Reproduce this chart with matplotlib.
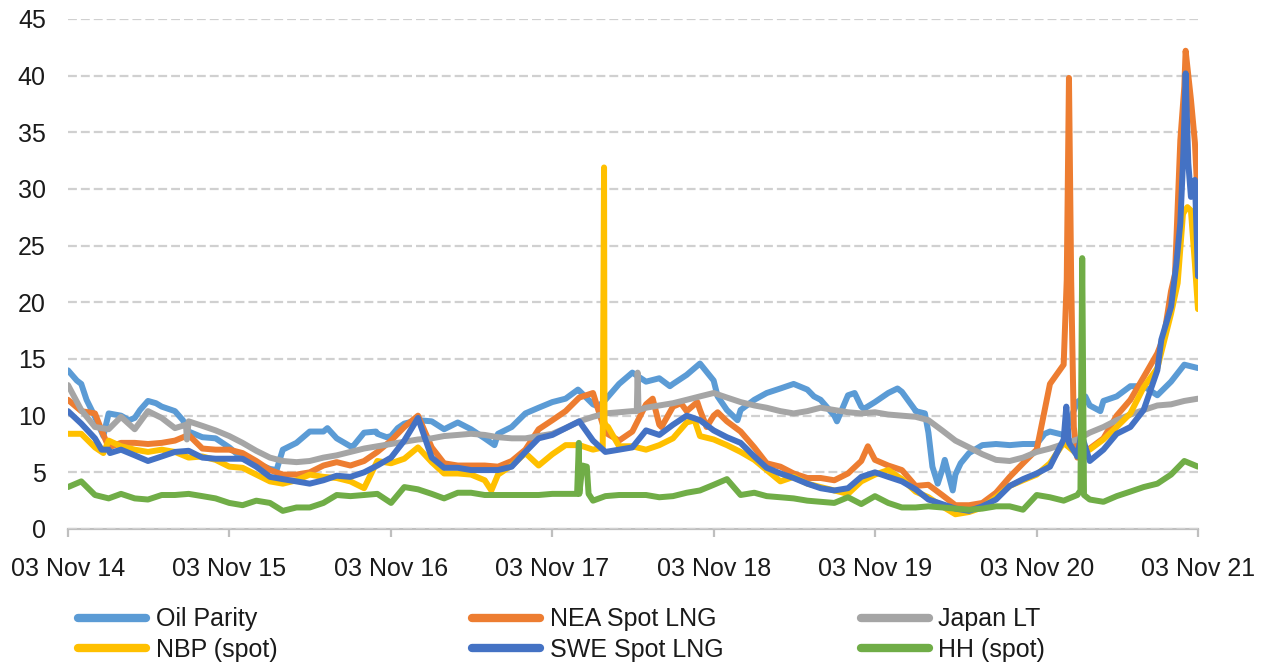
import matplotlib
matplotlib.use("Agg")
import matplotlib.pyplot as plt
import matplotlib.dates as mdates
from matplotlib.lines import Line2D
import pandas as pd
import numpy as np

plt.rcParams['font.family'] = ['Liberation Sans', 'DejaVu Sans']

# monthly observation dates (3rd of each month, Nov 2014 .. Nov 2021)
dates = pd.date_range('2014-11-01', periods=85, freq='MS') + pd.Timedelta(days=2)

oil_parity = [14.0, 12.8, 9.9, 10.2, 10.0, 9.8, 11.3, 10.8, 10.4, 8.6,
              8.1, 8.0, 7.2, 6.2, 5.8, 5.3, 7.0, 7.6, 8.6, 8.6,
              8.0, 7.3, 8.5, 8.4, 8.2, 9.3, 9.6, 9.5, 8.8, 9.4,
              8.8, 8.0, 8.4, 9.0, 10.2, 10.7, 11.2, 11.5, 12.2, 11.0,
              11.4, 12.8, 13.8, 13.0, 13.3, 12.8, 13.6, 14.6, 13.1, 10.5,
              10.5, 11.4, 12.0, 12.4, 12.8, 12.3, 11.4, 10.0, 11.8, 10.8,
              11.2, 12.0, 12.1, 10.4, 8.5, 5.2, 4.8, 6.7, 7.4, 7.5,
              7.4, 7.5, 7.5, 8.6, 8.3, 11.2, 10.9, 11.3, 11.7, 12.6,
              12.6, 11.8, 13.0, 14.5, 14.2]
oil_extra_dates = ['2014-11-23', '2014-12-15', '2015-01-22', '2015-03-21', '2015-04-15',
                   '2015-05-21', '2015-07-21', '2016-02-18', '2016-06-12', '2016-08-09',
                   '2016-09-30', '2016-10-24', '2016-11-18', '2017-06-25', '2017-12-31',
                   '2018-02-15', '2018-07-27', '2018-11-12', '2018-12-27', '2019-06-18',
                   '2019-08-09', '2019-09-18', '2019-10-09', '2019-12-24', '2020-01-31',
                   '2020-02-24', '2020-03-12', '2020-03-24', '2020-04-09', '2020-04-27',
                   '2020-05-15', '2020-11-21', '2021-02-21', '2021-03-27']
oil_extra_vals = [13.1, 11.4, 8.2, 9.6, 10.5,
                  11.1, 9.6, 5.2, 8.9, 7.3,
                  8.6, 8.1, 8.9, 7.4, 12.3,
                  10.8, 12.6, 11.7, 9.6, 11.7,
                  9.5, 12.0, 10.6, 12.4, 10.6,
                  10.2, 5.5, 4.0, 6.1, 3.4,
                  5.8, 8.4, 11.7, 10.4]

nea_spot = [11.4, 10.4, 10.2, 7.2, 7.6, 7.6, 7.5, 7.6, 7.8, 8.3,
            7.1, 7.0, 7.0, 6.7, 6.0, 5.2, 4.8, 4.8, 5.0, 5.6,
            5.9, 5.6, 6.0, 6.8, 7.8, 9.0, 10.0, 7.2, 5.8, 5.6,
            5.6, 5.6, 5.5, 6.0, 7.0, 8.8, 9.6, 10.4, 11.6, 12.0,
            8.5, 7.8, 8.6, 11.0, 9.2, 10.8, 10.4, 10.5, 10.0, 9.5,
            8.6, 7.2, 5.8, 5.5, 4.9, 4.5, 4.5, 4.3, 4.9, 6.0,
            6.1, 5.6, 5.2, 3.8, 3.9, 3.0, 2.1, 2.1, 2.3, 3.2,
            4.6, 5.8, 7.0, 12.8, 14.5, 6.3, 7.1, 8.0, 10.0, 11.4,
            13.4, 15.5, 21.0, 39.0, 28.5]
nea_extra_dates = ['2015-01-18', '2018-06-18', '2018-07-08', '2018-08-21', '2018-09-27',
                   '2018-10-18', '2018-11-12', '2019-10-18', '2021-01-10', '2021-01-15',
                   '2021-01-20', '2021-01-26', '2021-08-18', '2021-09-12', '2021-09-24',
                   '2021-10-06', '2021-10-18', '2021-10-27']
nea_extra_vals = [8.7, 11.5, 9.0, 11.1, 11.2,
                  9.0, 10.3, 7.3, 22.0, 39.8,
                  22.0, 9.0, 17.0, 22.5, 34.3,
                  42.2, 37.9, 34.1]

japan_lt = [12.7, 10.5, 9.0, 8.8, 9.9, 8.8, 10.4, 9.8, 8.9, 9.5,
            9.1, 8.7, 8.2, 7.6, 6.9, 6.3, 6.0, 5.9, 6.0, 6.3,
            6.5, 6.8, 7.1, 7.3, 7.5, 7.7, 7.9, 8.0, 8.2, 8.3,
            8.4, 8.3, 8.1, 8.0, 8.0, 8.2, 8.4, 8.9, 9.5, 9.9,
            10.2, 10.3, 10.4, 10.7, 10.9, 11.1, 11.4, 11.7, 12.0, 11.6,
            11.2, 10.9, 10.7, 10.4, 10.2, 10.4, 10.7, 10.5, 10.3, 10.2,
            10.3, 10.1, 10.0, 9.9, 9.6, 8.7, 7.8, 7.2, 6.6, 6.1,
            6.0, 6.3, 6.8, 7.1, 7.5, 7.9, 8.5, 9.0, 9.6, 10.1,
            10.5, 10.9, 11.0, 11.3, 11.5]
japan_extra_dates = ['2015-07-28', '2015-07-30', '2018-05-13', '2018-05-15', '2018-05-17']
japan_extra_vals = [9.2, 7.9, 10.4, 13.8, 10.5]

nbp_spot = [8.4, 8.4, 7.2, 7.8, 7.3, 7.0, 6.8, 7.0, 6.8, 6.3,
            6.4, 6.1, 5.5, 5.4, 4.8, 4.2, 4.0, 4.3, 4.8, 4.6,
            4.5, 4.2, 3.6, 6.0, 5.8, 6.2, 7.2, 5.9, 4.9, 4.9,
            4.8, 4.3, 4.8, 5.6, 6.7, 5.6, 6.6, 7.4, 7.4, 7.0,
            9.2, 7.3, 7.3, 7.0, 7.4, 8.0, 9.4, 8.2, 7.9, 7.4,
            6.8, 6.1, 5.2, 4.2, 4.6, 4.0, 3.7, 3.4, 3.1, 4.2,
            4.8, 5.2, 4.4, 3.3, 2.8, 2.0, 1.3, 1.5, 1.9, 2.8,
            3.8, 4.3, 4.8, 5.8, 7.6, 6.6, 7.0, 7.9, 9.0, 10.2,
            12.5, 14.2, 19.0, 28.0, 19.4]
nbp_extra_dates = ['2015-01-22', '2017-06-18', '2018-02-25', '2018-02-28', '2018-03-01',
                   '2018-03-09', '2018-09-21', '2021-09-18', '2021-09-30', '2021-10-10',
                   '2021-10-18', '2021-10-27']
nbp_extra_vals = [6.7, 3.4, 7.2, 31.9, 9.5,
                  9.0, 9.6, 21.7, 27.8, 28.4,
                  28.1, 23.4]

swe_spot = [10.4, 9.3, 8.0, 7.0, 7.0, 6.5, 6.0, 6.4, 6.8, 6.9,
            6.3, 6.2, 6.2, 6.2, 5.5, 4.6, 4.4, 4.2, 4.0, 4.3,
            4.7, 4.6, 5.0, 5.6, 6.3, 7.8, 9.8, 6.3, 5.4, 5.4,
            5.2, 5.2, 5.2, 5.5, 6.8, 8.0, 8.3, 8.9, 9.5, 7.8,
            6.8, 7.0, 7.2, 8.7, 8.3, 9.2, 10.0, 9.6, 8.7, 8.1,
            7.6, 6.4, 5.4, 4.9, 4.5, 4.0, 3.6, 3.4, 3.6, 4.6,
            5.0, 4.6, 4.2, 3.5, 2.6, 2.2, 1.8, 1.6, 2.0, 2.6,
            3.8, 4.4, 4.9, 5.5, 7.9, 6.4, 6.0, 7.0, 8.4, 9.0,
            10.5, 14.0, 19.6, 36.0, 22.3]
swe_extra_dates = ['2015-01-18', '2015-02-06', '2021-01-09', '2021-01-15', '2021-02-12',
                   '2021-08-12', '2021-09-15', '2021-09-24', '2021-09-30', '2021-10-06',
                   '2021-10-12', '2021-10-18', '2021-10-27']
swe_extra_vals = [7.0, 6.7, 10.8, 7.6, 8.4,
                  16.7, 23.4, 27.0, 32.3, 40.2,
                  32.3, 29.3, 30.8]

hh_spot = [3.7, 4.2, 3.0, 2.7, 3.1, 2.7, 2.6, 3.0, 3.0, 3.1,
           2.9, 2.7, 2.3, 2.1, 2.5, 2.3, 1.6, 1.9, 1.9, 2.3,
           3.0, 2.9, 3.0, 3.1, 2.3, 3.7, 3.5, 3.1, 2.7, 3.2,
           3.2, 3.0, 3.0, 3.0, 3.0, 3.0, 3.1, 3.1, 3.1, 2.5,
           2.9, 3.0, 3.0, 3.0, 2.8, 2.9, 3.2, 3.4, 3.9, 4.4,
           3.0, 3.2, 2.9, 2.8, 2.7, 2.5, 2.4, 2.3, 2.8, 2.2,
           2.9, 2.3, 1.9, 1.9, 2.0, 1.9, 1.8, 1.7, 1.8, 2.0,
           2.0, 1.7, 3.0, 2.8, 2.5, 3.0, 2.6, 2.4, 2.9, 3.3,
           3.7, 4.0, 4.8, 6.0, 5.5]
hh_extra_dates = ['2017-12-29', '2018-01-02', '2018-01-10', '2018-01-20', '2018-01-24',
                  '2021-02-10', '2021-02-14', '2021-02-18']
hh_extra_vals = [3.1, 7.6, 5.6, 5.5, 3.1,
                 3.4, 23.9, 3.0]

series = [
    ('Oil Parity', oil_parity, oil_extra_dates, oil_extra_vals, '#5B9BD5'),
    ('NEA Spot LNG', nea_spot, nea_extra_dates, nea_extra_vals, '#ED7D31'),
    ('Japan LT', japan_lt, japan_extra_dates, japan_extra_vals, '#A5A5A5'),
    ('NBP (spot)', nbp_spot, nbp_extra_dates, nbp_extra_vals, '#FFC000'),
    ('SWE Spot LNG', swe_spot, swe_extra_dates, swe_extra_vals, '#4472C4'),
    ('HH (spot)', hh_spot, hh_extra_dates, hh_extra_vals, '#70AD47'),
]

W, H = 1264, 663
fig = plt.figure(figsize=(W / 100, H / 100), dpi=100)
ax = fig.add_axes([68 / W, 1 - 529 / H, (1198 - 68) / W, (529 - 19) / H])

lw = 4.3
handles = {}
for name, base, edates, evals, color in series:
    s = pd.concat([pd.Series(base, index=dates),
                   pd.Series(evals, index=pd.to_datetime(edates))]).sort_index()
    ln, = ax.plot(s.index, s.values, color=color, lw=lw, solid_joinstyle='round',
                  solid_capstyle='round', label=name)
    handles[name] = ln

ax.set_ylim(0, 45)
ax.set_yticks(np.arange(0, 46, 5))
ax.set_xlim(pd.Timestamp('2014-11-03'), pd.Timestamp('2021-11-03'))
xt = pd.date_range('2014-11-03', periods=8, freq=pd.DateOffset(years=1))
ax.set_xticks(xt)
ax.xaxis.set_major_formatter(mdates.DateFormatter('%d %b %y'))

ax.grid(axis='y', color='#D0D0D0', lw=1.6, linestyle=(0, (4.0, 1.8)))
ax.grid(axis='x', visible=False)
ax.set_axisbelow(True)
for sp in ['top', 'right', 'left']:
    ax.spines[sp].set_visible(False)
ax.spines['bottom'].set_color('#BFBFBF')
ax.spines['bottom'].set_linewidth(1.6)
ax.spines['bottom'].set_zorder(0.5)
ax.tick_params(axis='y', length=0, pad=16, labelsize=18, labelcolor='#1a1a1a')
ax.tick_params(axis='x', length=6, width=1.6, color='#BFBFBF', pad=14,
               labelsize=18, labelcolor='#1a1a1a')

cols = [(['Oil Parity', 'NBP (spot)'], 78),
        (['NEA Spot LNG', 'SWE Spot LNG'], 472),
        (['Japan LT', 'HH (spot)'], 861)]
for names, x0 in cols:
    hs = [Line2D([], [], color=handles[n].get_color(), lw=6.0, solid_capstyle='round') for n in names]
    fig.legend(hs, names, loc='center left', bbox_to_anchor=(x0 / W, 1 - 634.5 / H),
               frameon=False, fontsize=18, handlelength=2.7, handletextpad=0.4,
               borderpad=0, borderaxespad=0, labelspacing=0.25, labelcolor='#1a1a1a')

fig.savefig('out.png', dpi=100)
